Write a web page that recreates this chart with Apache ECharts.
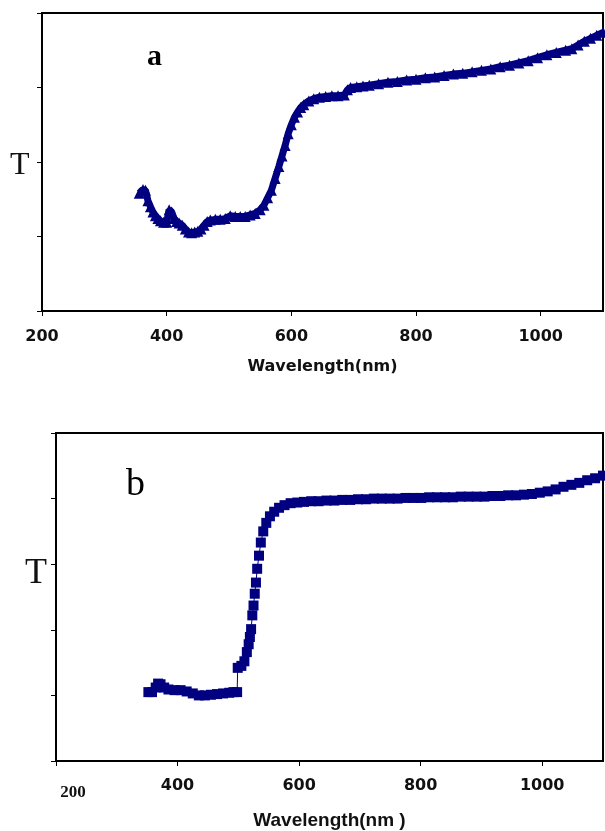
<!DOCTYPE html>
<html>
<head>
<meta charset="utf-8">
<script src="https://cdn.jsdelivr.net/npm/echarts@6/dist/echarts.min.js"></script>
<style>
  html, body { margin: 0; padding: 0; background: #fff; }
  #chart { width: 605px; height: 831px; }
</style>
</head>
<body>
<div id="chart"></div>
<script>
// Transmittance spectra of two films, a and b (arbitrary units)
const wavelengthA = [356, 362, 366, 370, 374, 378, 382, 386, 390, 395, 400, 404, 408, 412, 416, 420, 425, 430, 435, 440, 445, 450, 455, 460, 465, 470, 478, 486, 494, 502, 510, 518, 526, 534, 542, 550, 556, 562, 568, 574, 580, 585, 590, 595, 600, 605, 610, 615, 620, 628, 636, 645, 655, 665, 675, 685, 690, 695, 705, 715, 725, 740, 755, 770, 785, 800, 815, 830, 845, 860, 875, 890, 905, 920, 935, 950, 965, 980, 995, 1010, 1025, 1040, 1050, 1060, 1070, 1080, 1090, 1100];
const transA = [1.58, 1.63, 1.62, 1.48, 1.40, 1.33, 1.28, 1.24, 1.21, 1.19, 1.19, 1.36, 1.33, 1.24, 1.20, 1.18, 1.15, 1.10, 1.06, 1.05, 1.06, 1.07, 1.10, 1.15, 1.20, 1.22, 1.23, 1.23, 1.24, 1.28, 1.27, 1.27, 1.27, 1.29, 1.31, 1.36, 1.42, 1.52, 1.62, 1.78, 1.94, 2.08, 2.22, 2.38, 2.50, 2.60, 2.67, 2.73, 2.77, 2.82, 2.85, 2.87, 2.88, 2.89, 2.89, 2.90, 2.97, 3.00, 3.01, 3.02, 3.03, 3.05, 3.07, 3.08, 3.10, 3.11, 3.13, 3.14, 3.16, 3.18, 3.19, 3.21, 3.23, 3.25, 3.28, 3.30, 3.33, 3.36, 3.40, 3.44, 3.47, 3.50, 3.52, 3.57, 3.62, 3.66, 3.70, 3.74];

const wavelengthB = [352, 358, 364, 368, 372, 378, 385, 395, 405, 415, 425, 435, 445, 455, 465, 475, 485, 492, 498, 499, 505, 510, 514, 517, 519, 521, 523, 525, 527, 529, 531, 534, 537, 541, 546, 552, 559, 567, 576, 586, 597, 608, 620, 632, 645, 658, 671, 684, 697, 710, 723, 736, 749, 762, 775, 788, 801, 814, 827, 840, 853, 866, 879, 892, 905, 918, 931, 944, 957, 970, 983, 996, 1009, 1022, 1035, 1048, 1061, 1074, 1087, 1100];
const transB = [1.05, 1.05, 1.12, 1.18, 1.17, 1.12, 1.09, 1.08, 1.08, 1.06, 1.03, 1.00, 1.00, 1.01, 1.02, 1.03, 1.04, 1.05, 1.05, 1.42, 1.45, 1.52, 1.66, 1.78, 1.89, 2.01, 2.22, 2.37, 2.55, 2.72, 2.93, 3.13, 3.33, 3.50, 3.63, 3.73, 3.80, 3.86, 3.90, 3.93, 3.94, 3.95, 3.96, 3.96, 3.97, 3.97, 3.98, 3.98, 3.99, 3.99, 4.00, 4.00, 4.00, 4.00, 4.01, 4.01, 4.01, 4.02, 4.02, 4.02, 4.02, 4.03, 4.03, 4.03, 4.03, 4.04, 4.04, 4.05, 4.05, 4.06, 4.07, 4.09, 4.11, 4.14, 4.18, 4.21, 4.24, 4.28, 4.31, 4.35];

const xTicks = [200, 400, 600, 800, 1000];
const xAxisTitleA = 'Wavelength(nm)';
const xAxisTitleB = 'Wavelength(nm )';
const yAxisTitle = 'T';
const panelA = 'a';
const panelB = 'b';

const navy = '#000080';
const pairs = (xs, ys) => xs.map((x, i) => [x, ys[i]]);

const chart = echarts.init(document.getElementById('chart'), null, { renderer: 'canvas' });

const baseX = {
  type: 'value', min: 200, max: 1100,
  splitLine: { show: false },
  axisLine: { show: true, onZero: false, lineStyle: { color: '#000', width: 2 } },
  axisTick: { show: true, inside: false, length: 5, customValues: xTicks, lineStyle: { color: '#000', width: 1 } },
  nameLocation: 'middle'
};
const baseY = {
  type: 'value', min: 0, interval: 1,
  splitLine: { show: false },
  axisLabel: { show: false },
  axisLine: { show: true, onZero: false, lineStyle: { color: '#000', width: 2 } },
  axisTick: { show: true, inside: false, length: 5, lineStyle: { color: '#000', width: 1 } }
};

chart.setOption({
  animation: false,
  backgroundColor: '#fff',
  grid: [
    { left: 42, top: 13, width: 561, height: 298, show: true, borderColor: '#000', borderWidth: 2, backgroundColor: 'transparent' },
    { left: 56, top: 433, width: 547, height: 330, show: true, borderColor: '#000', borderWidth: 2, backgroundColor: 'transparent' }
  ],
  xAxis: [
    Object.assign({}, baseX, {
      gridIndex: 0,
      name: xAxisTitleA, nameGap: 48,
      nameTextStyle: { fontFamily: 'DejaVu Sans', fontWeight: 'bold', fontSize: 16, color: '#111' },
      axisLabel: { customValues: xTicks, margin: 18, fontFamily: 'DejaVu Sans', fontWeight: 'bold', fontSize: 16, color: '#111',
        formatter: v => String(v) }
    }),
    Object.assign({}, baseX, {
      gridIndex: 1,
      name: xAxisTitleB, nameGap: 50,
      nameTextStyle: { fontFamily: 'Liberation Sans', fontWeight: 'bold', fontSize: 19, color: '#111' },
      axisLabel: {
        customValues: xTicks, margin: 17,
        fontFamily: 'DejaVu Sans', fontWeight: 'bold', fontSize: 16, color: '#111',
        formatter: v => v === 200 ? '{s|' + v + '}' : String(v),
        rich: { s: { fontFamily: 'Liberation Serif', fontWeight: 'bold', fontSize: 17, color: '#111', padding: [6, 0, 0, 34] } }
      }
    })
  ],
  yAxis: [
    Object.assign({}, baseY, { gridIndex: 0, max: 4 }),
    Object.assign({}, baseY, { gridIndex: 1, max: 5 })
  ],
  series: [
    {
      type: 'line', xAxisIndex: 0, yAxisIndex: 0,
      data: pairs(wavelengthA, transA),
      symbol: 'triangle', symbolSize: 11, showAllSymbol: true,
      itemStyle: { color: navy },
      lineStyle: { color: navy, width: 7 },
      silent: true
    },
    {
      type: 'line', xAxisIndex: 1, yAxisIndex: 1,
      data: pairs(wavelengthB, transB),
      symbol: 'rect', symbolSize: 10, showAllSymbol: true,
      itemStyle: { color: navy },
      lineStyle: { color: navy, width: 1 },
      silent: true
    }
  ],
  graphic: [
    { type: 'text', left: 10, top: 150, style: { text: yAxisTitle, font: '32px "Liberation Serif"', fill: '#111' } },
    { type: 'text', left: 25, top: 556, style: { text: yAxisTitle, font: '36px "Liberation Serif"', fill: '#111' } },
    { type: 'text', left: 147, top: 42, style: { text: panelA, font: 'bold 30px "Liberation Serif"', fill: '#000' } },
    { type: 'text', left: 126, top: 466, style: { text: panelB, font: '38px "Liberation Serif"', fill: '#000' } }
  ]
});
</script>
</body>
</html>
